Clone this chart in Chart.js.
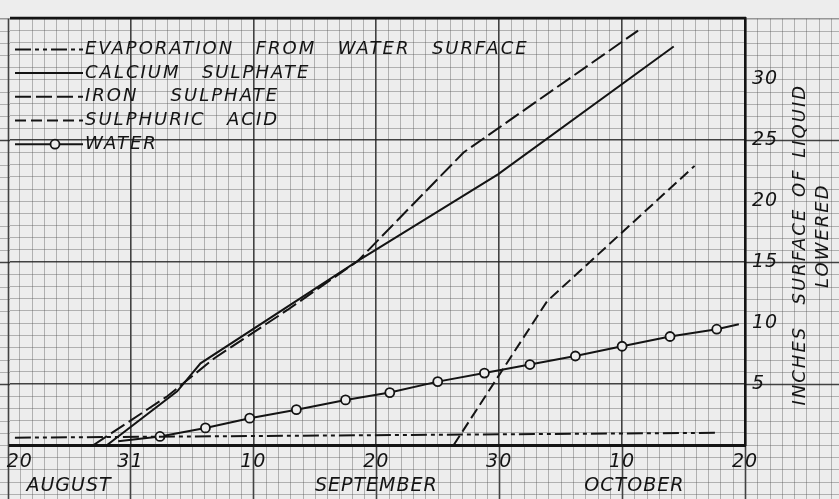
<!DOCTYPE html>
<html>
<head>
<meta charset="utf-8">
<script src="https://cdn.jsdelivr.net/npm/chart.js@4.4.1/dist/chart.umd.min.js"></script>
<style>
  html, body { margin: 0; padding: 0; background: #ededed; }
  #wrap { width: 839px; height: 499px; position: relative; }
</style>
</head>
<body>
<div id="wrap"><canvas id="c" width="839" height="499"></canvas></div>
<script>
// ---- tick labels (x values are days after 31 August) ----
const dayTicks   = [-9, 0, 10, 20, 30, 40, 50];
const dayLabels  = ['20', '31', '10', '20', '30', '10', '20'];
const monthTicks = [-5, 20, 41];
const monthLabels = ['AUGUST', 'SEPTEMBER', 'OCTOBER'];
const yTickLabels = [5, 10, 15, 20, 25, 30];
const yTitle = ['INCHES  SURFACE OF LIQUID', 'LOWERED'];

// ---- series ----
const seriesNames = ['EVAPORATION  FROM  WATER  SURFACE', 'CALCIUM  SULPHATE', 'IRON   SULPHATE', 'SULPHURIC  ACID', 'WATER'];

const evapDays   = [-9.4, 47.7];
const evapValues = [0.6, 1.0];

const calciumDays   = [-1.9, 3.8, 5.7, 18.5, 29.9, 44.2];
const calciumValues = [0, 4.4, 6.7, 15.1, 22.2, 32.7];

const ironDays   = [-3.0, 3.0, 6.8, 12.8, 18.5, 27.1, 41.3];
const ironValues = [0, 4.0, 7.1, 11.1, 15.1, 24.0, 34.0];

const sulphuricDays   = [26.3, 33.9, 45.9];
const sulphuricValues = [0, 11.8, 22.9];

const waterDays   = [-1.0, 2.4, 6.1, 9.7, 13.5, 17.5, 21.1, 25.0, 28.8, 32.5, 36.2, 40.0, 43.9, 47.7, 49.5];
const waterValues = [0.3, 0.7, 1.4, 2.2, 2.9, 3.7, 4.3, 5.2, 5.9, 6.6, 7.3, 8.1, 8.9, 9.5, 9.9];
const waterMarked = [false, true, true, true, true, true, true, true, true, true, true, true, true, true, false];

// ---- styling ----
const INK = '#141414';
const PAPER = '#ededed';
const LIGHT = 'rgba(70,70,70,0.36)';
const HEAVY = 'rgba(35,35,35,0.85)';
const FONT = '"DejaVu Sans", "Liberation Sans", sans-serif';

const pts = (xs, ys) => xs.map((x, i) => ({ x: x, y: ys[i] }));

const intTicks = (scale) => {
  const out = [];
  for (let v = Math.ceil(scale.min); v <= Math.floor(scale.max); v++) out.push({ value: v });
  scale.ticks = out;
};

// paper grid outside the plot frame, drawn from the chart's own scales
const paperGrid = {
  id: 'paperGrid',
  beforeDraw(chart) {
    const { ctx, chartArea: a, scales } = chart;
    const x = scales.x, y = scales.y;
    ctx.save();
    ctx.beginPath();
    ctx.rect(0, a.top, chart.width, chart.height - a.top);
    ctx.rect(a.left, a.top, a.right - a.left, a.bottom - a.top);
    ctx.clip('evenodd');
    const d0 = Math.ceil(x.getValueForPixel(0));
    const d1 = Math.floor(x.getValueForPixel(chart.width));
    for (let d = d0; d <= d1; d++) {
      const px = Math.round(x.getPixelForValue(d)) + 0.5;
      const heavy = ((d % 10) + 10) % 10 === 0;
      ctx.strokeStyle = heavy ? HEAVY : LIGHT;
      ctx.lineWidth = heavy ? 1.6 : 1;
      ctx.beginPath(); ctx.moveTo(px, a.top); ctx.lineTo(px, chart.height); ctx.stroke();
    }
    const v0 = Math.ceil(y.getValueForPixel(chart.height));
    const v1 = Math.floor(y.max);
    for (let v = v0; v <= v1; v++) {
      const py = Math.round(y.getPixelForValue(v)) + 0.5;
      const heavy = ((v % 10) + 10) % 10 === 5;
      ctx.strokeStyle = heavy ? HEAVY : LIGHT;
      ctx.lineWidth = heavy ? 1.6 : 1;
      ctx.beginPath(); ctx.moveTo(0, py); ctx.lineTo(chart.width, py); ctx.stroke();
    }
    ctx.restore();
    chart.ctx.letterSpacing = '1px';
  },
  afterDatasetsDraw(chart) {
    const { ctx, chartArea: a, scales } = chart;
    const ty = Math.round(scales.y.getPixelForValue(scales.y.max));
    ctx.save();
    ctx.strokeStyle = INK;
    ctx.lineWidth = 2.5;
    ctx.beginPath(); ctx.moveTo(a.left, ty); ctx.lineTo(a.right + 1, ty); ctx.stroke();
    ctx.restore();
  }
};

// hand-lettered legend inside the plot, built from the datasets
const letterLegend = {
  id: 'letterLegend',
  afterDraw(chart) {
    const { ctx, chartArea: a } = chart;
    ctx.save();
    ctx.font = 'italic 18px ' + FONT;
    ctx.letterSpacing = '2px';
    ctx.wordSpacing = '3px';
    ctx.fillStyle = INK;
    ctx.textBaseline = 'middle';
    chart.data.datasets.forEach((ds, i) => {
      const yy = a.top + 31 + i * 23.7;
      const x0 = a.left + 5, x1 = a.left + 73;
      ctx.strokeStyle = INK;
      ctx.lineWidth = 2;
      ctx.setLineDash(ds.borderDash || []);
      ctx.beginPath(); ctx.moveTo(x0, yy); ctx.lineTo(x1, yy); ctx.stroke();
      ctx.setLineDash([]);
      if (ds.legendMarker) {
        ctx.beginPath(); ctx.arc(a.left + 45, yy, 4.5, 0, Math.PI * 2);
        ctx.fillStyle = PAPER; ctx.fill();
        ctx.lineWidth = 1.8; ctx.stroke();
        ctx.fillStyle = INK;
      }
      ctx.fillText(ds.label, x1 + 2, yy);
    });
    // rotated axis title on the right
    ctx.font = 'italic 18px ' + FONT;
    ctx.textAlign = 'center';
    ctx.letterSpacing = '2px';
    const r = chart.scales.y;
    const midY = (chart.chartArea.top + chart.chartArea.bottom) / 2;
    ctx.translate(r.right - 39, midY + 13);
    ctx.rotate(-Math.PI / 2);
    ctx.fillText(yTitle[0], 0, 0);
    ctx.fillText(yTitle[1], 9, 23);
    ctx.restore();
  }
};

const lineBase = {
  borderColor: INK,
  borderWidth: 2,
  tension: 0,
  fill: false,
  pointRadius: 0,
  pointHoverRadius: 0
};

new Chart(document.getElementById('c'), {
  type: 'line',
  data: {
    datasets: [
      Object.assign({}, lineBase, { label: seriesNames[0], data: pts(evapDays, evapValues), borderDash: [16, 4, 4, 4, 4, 4] }),
      Object.assign({}, lineBase, { label: seriesNames[1], data: pts(calciumDays, calciumValues) }),
      Object.assign({}, lineBase, { label: seriesNames[2], data: pts(ironDays, ironValues), borderDash: [16, 5] }),
      Object.assign({}, lineBase, { label: seriesNames[3], data: pts(sulphuricDays, sulphuricValues), borderDash: [11, 5] }),
      Object.assign({}, lineBase, {
        label: seriesNames[4], data: pts(waterDays, waterValues), legendMarker: true,
        pointRadius: waterMarked.map(m => (m ? 4.5 : 0)),
        pointBackgroundColor: PAPER, pointBorderColor: INK, pointBorderWidth: 1.8
      })
    ]
  },
  options: {
    responsive: false,
    animation: false,
    events: [],
    layout: { padding: { top: 16, left: 10, right: 0, bottom: 0 } },
    plugins: { legend: { display: false }, tooltip: { enabled: false }, title: { display: false } },
    scales: {
      x: {
        type: 'linear', position: 'bottom', weight: 0,
        min: -9.8, max: 50,
        afterBuildTicks: intTicks,
        afterFit: (s) => { s.height = 30; },
        grid: {
          drawTicks: false,
          color: (c) => (((c.tick.value % 10) + 10) % 10 === 0 ? HEAVY : LIGHT),
          lineWidth: (c) => (((c.tick.value % 10) + 10) % 10 === 0 ? 1.6 : 1)
        },
        border: { display: true, color: INK, width: 3 },
        ticks: {
          autoSkip: false, maxRotation: 0, padding: 6, color: INK,
          font: { family: FONT, size: 19, style: 'italic' },
          callback: (v) => { const i = dayTicks.indexOf(v); return i >= 0 ? dayLabels[i] : ''; }
        }
      },
      xm: {
        type: 'linear', position: 'bottom', weight: 1,
        min: -9.8, max: 50,
        afterBuildTicks: (s) => { s.ticks = monthTicks.map(v => ({ value: v })); },
        afterFit: (s) => { s.height = 24; },
        grid: { display: false, drawTicks: false },
        border: { display: false },
        ticks: {
          autoSkip: false, maxRotation: 0, padding: 0, color: INK,
          font: { family: FONT, size: 19, style: 'italic' },
          callback: (v) => { const i = monthTicks.indexOf(v); return i >= 0 ? monthLabels[i] : ''; }
        }
      },
      y: {
        type: 'linear', position: 'right',
        min: 0, max: 35,
        afterBuildTicks: intTicks,
        afterFit: (s) => { s.width = 94; },
        grid: {
          drawTicks: false,
          color: (c) => (((c.tick.value % 10) + 10) % 10 === 5 ? HEAVY : LIGHT),
          lineWidth: (c) => (((c.tick.value % 10) + 10) % 10 === 5 ? 1.6 : 1)
        },
        border: { display: true, color: INK, width: 2.5 },
        ticks: {
          autoSkip: false, padding: 7, color: INK,
          font: { family: FONT, size: 19, style: 'italic' },
          callback: (v) => (yTickLabels.includes(v) ? String(v) : '')
        }
      }
    }
  },
  plugins: [paperGrid, letterLegend]
});
</script>
</body>
</html>
